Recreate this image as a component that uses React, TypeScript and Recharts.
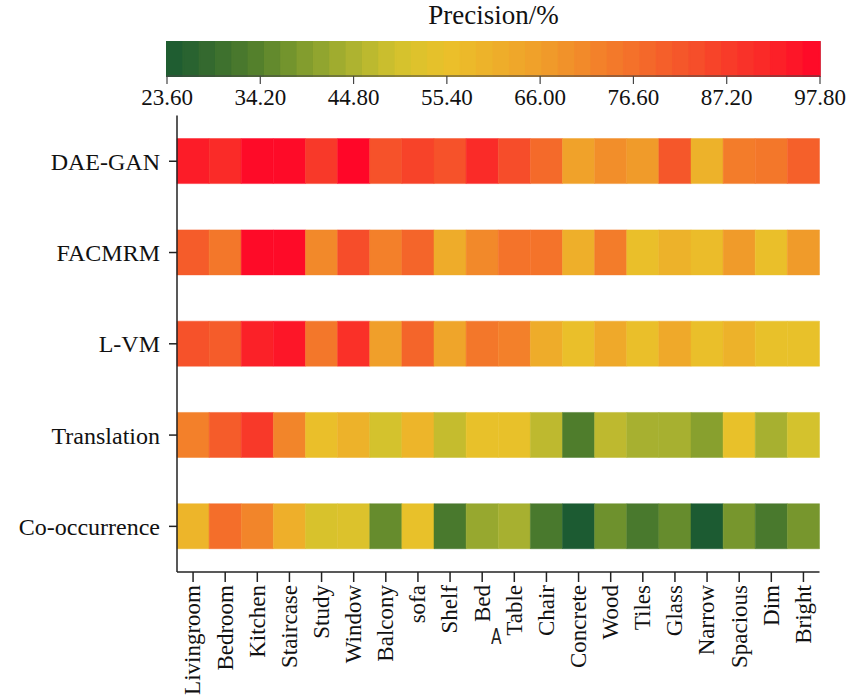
import React from 'react';
import { Bar, BarChart, Cell, ReferenceArea, XAxis, YAxis } from 'recharts';

const methods = ['DAE-GAN', 'FACMRM', 'L-VM', 'Translation', 'Co-occurrence'];

const objects = [
  'Livingroom', 'Bedroom', 'Kitchen', 'Staircase', 'Study', 'Window', 'Balcony', 'sofa', 'Shelf', 'Bed',
  'Table', 'Chair', 'Concrete', 'Wood', 'Tiles', 'Glass', 'Narrow', 'Spacious', 'Dim', 'Bright',
];

// precision (%) per method, one value per object, in the order above
const daeGan = [94, 91, 97, 97, 88, 97.8, 83, 86, 83, 91, 84, 78, 65, 70, 67, 82, 60, 74, 75, 80];
const facmrm = [81, 75, 97, 97, 71, 84, 73, 79, 62, 71, 76, 76, 61, 74, 56, 60, 57, 67, 56, 67];
const lvm = [83, 81, 93, 95, 75, 90, 66, 79, 64, 75, 73, 62, 56, 63, 56, 63, 56, 60, 55, 55];
const translation = [73, 81, 88, 72, 56, 60, 50, 59, 48, 55, 55, 47, 33, 47, 44, 44, 40, 55, 44, 50];
const coOccurrence = [59, 77, 72, 61, 51, 52, 36, 55, 32, 42, 44, 32, 24, 37, 32, 36, 24, 38, 32, 38];

const colorTicks = [23.6, 34.2, 44.8, 55.4, 66.0, 76.6, 87.2, 97.8];

const colorStops: [number, string][] = [
  [23.6, '#1a5a32'],
  [29.0, '#386c2e'],
  [34.2, '#56822c'],
  [39.5, '#849e2e'],
  [44.8, '#adb330'],
  [50.0, '#d4c22d'],
  [55.4, '#eac12a'],
  [60.7, '#eeb02a'],
  [66.0, '#f09f2a'],
  [71.3, '#f2882a'],
  [76.6, '#f4702a'],
  [82.0, '#f5572a'],
  [87.2, '#f83d29'],
  [92.5, '#fb2428'],
  [97.8, '#ff0628'],
];

function hexToRgb(h: string) {
  return [1, 3, 5].map((i) => parseInt(h.slice(i, i + 2), 16));
}

function colorFor(v: number) {
  if (v <= colorStops[0][0]) return colorStops[0][1];
  for (let i = 1; i < colorStops.length; i++) {
    const [v1, c1] = colorStops[i];
    const [v0, c0] = colorStops[i - 1];
    if (v <= v1) {
      const t = (v - v0) / (v1 - v0);
      const a = hexToRgb(c0);
      const b = hexToRgb(c1);
      const m = a.map((x, k) => Math.round(x + (b[k] - x) * t));
      return `rgb(${m[0]},${m[1]},${m[2]})`;
    }
  }
  return colorStops[colorStops.length - 1][1];
}

const rows = [daeGan, facmrm, lvm, translation, coOccurrence].map((values, r) => ({
  method: methods[r],
  values,
}));

// colour bar steps (legend only)
const STEPS = 40;
const barMin = colorTicks[0];
const barMax = colorTicks[colorTicks.length - 1];
const colorSteps = Array.from({ length: STEPS }, (_, i) => {
  const mid = barMin + ((i + 0.5) * (barMax - barMin)) / STEPS;
  return { mid, color: colorFor(mid) };
});

const FONT = '"Liberation Serif", "Times New Roman", serif';
const AXIS = '#222';

const ObjectTick = ({ x, y, payload }: any) => (
  <text
    x={x}
    y={y}
    transform={`rotate(-90 ${x} ${y})`}
    textAnchor="end"
    dy="0.32em"
    fontSize={23}
    fontFamily={FONT}
    fill="#111"
  >
    {objects[Math.floor(payload.value)]}
  </text>
);

export default function App() {
  return (
    <div style={{ position: 'absolute', left: 0, top: 0, width: 848, height: 698, background: '#fff' }}>
      <div
        style={{
          position: 'absolute',
          left: 167,
          top: 2,
          width: 653,
          textAlign: 'center',
          fontFamily: FONT,
          fontSize: 27,
          lineHeight: '27px',
          color: '#111',
        }}
      >
        Precision/%
      </div>

      <div style={{ position: 'absolute', left: 0, top: 0 }}>
        <BarChart
          width={848}
          height={116}
          data={colorSteps}
          barCategoryGap={0}
          margin={{ top: 42, right: 28, left: 167, bottom: 0 }}
        >
          <XAxis
            type="number"
            dataKey="mid"
            domain={[barMin, barMax]}
            ticks={colorTicks}
            tickFormatter={(v: number) => v.toFixed(2)}
            interval={0}
            height={40}
            tickSize={8}
            tickMargin={5}
            stroke="#444"
            strokeWidth={1.2}
            tick={{ fontSize: 23, fontFamily: FONT, fill: '#111' }}
          />
          <YAxis hide type="number" domain={[0, 1]} />
          <Bar dataKey={() => 1} isAnimationActive={false}>
            {colorSteps.map((s, i) => (
              <Cell key={i} fill={s.color} stroke={s.color} strokeWidth={2} />
            ))}
          </Bar>
          <ReferenceArea
            x1={barMin}
            x2={barMax}
            y1={0}
            y2={1}
            fill="none"
            fillOpacity={0}
            stroke="#555"
            strokeWidth={1.3}
            ifOverflow="visible"
          />
        </BarChart>
      </div>

      <div style={{ position: 'absolute', left: 0, top: 0 }}>
        <BarChart
          width={848}
          height={698}
          data={rows}
          layout="vertical"
          barSize={45}
          margin={{ top: 115.6, right: 28.5, left: 7, bottom: 0 }}
        >
          <XAxis
            xAxisId="b"
            type="number"
            domain={[0, objects.length]}
            ticks={objects.map((_, i) => i + 0.5)}
            interval={0}
            height={126}
            tickSize={10}
            tickMargin={3}
            stroke={AXIS}
            strokeWidth={1.5}
            tick={<ObjectTick />}
          />
          <XAxis
            xAxisId="t"
            orientation="top"
            type="number"
            domain={[0, objects.length]}
            height={0}
            tick={false}
            tickLine={false}
            stroke={AXIS}
            strokeWidth={1.5}
          />
          <YAxis
            yAxisId="l"
            type="category"
            dataKey="method"
            width={170}
            tickSize={8}
            tickMargin={9}
            stroke={AXIS}
            strokeWidth={1.5}
            tick={{ fontSize: 24, fontFamily: FONT, fill: '#111' }}
          />
          <YAxis
            yAxisId="r"
            orientation="right"
            type="category"
            dataKey="method"
            width={0}
            tick={false}
            tickLine={false}
            stroke={AXIS}
            strokeWidth={1.5}
          />
          {objects.map((obj, c) => (
            <Bar
              key={obj}
              xAxisId="b"
              yAxisId="l"
              stackId="cells"
              dataKey={() => 1}
              isAnimationActive={false}
            >
              {rows.map((row) => (
                <Cell
                  key={row.method}
                  fill={colorFor(row.values[c])}
                  stroke={colorFor(row.values[c])}
                  strokeWidth={0.5}
                />
              ))}
            </Bar>
          ))}
        </BarChart>
      </div>

      <div
        style={{
          position: 'absolute',
          left: 491,
          top: 626,
          fontFamily: '"DejaVu Sans", sans-serif',
          fontSize: 22,
          lineHeight: '22px',
          color: '#222',
          transform: 'scaleX(0.7)',
          transformOrigin: 'left top',
        }}
      >
        A
      </div>
    </div>
  );
}
